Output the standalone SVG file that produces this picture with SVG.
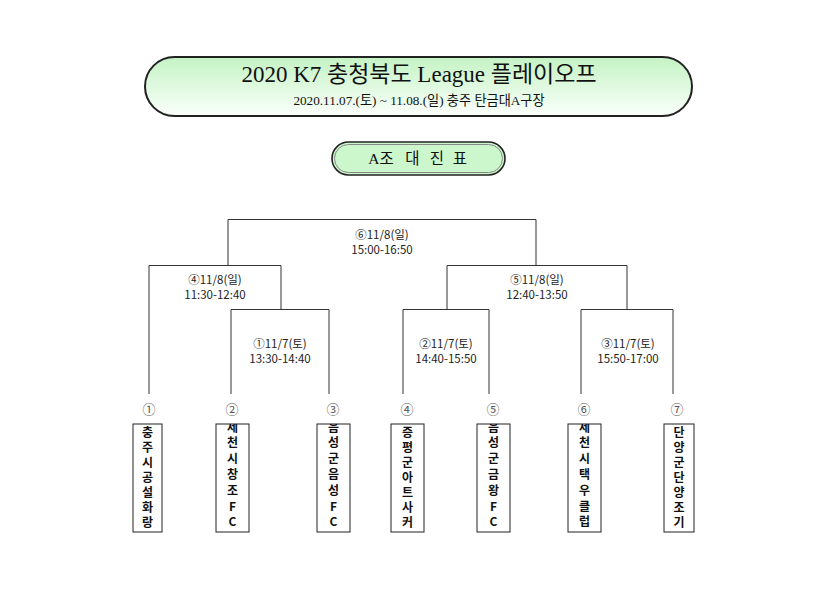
<svg xmlns="http://www.w3.org/2000/svg" width="835" height="590" viewBox="0 0 835 590">
<defs>
<linearGradient id="gTitle" x1="0" y1="0" x2="0" y2="1">
<stop offset="0" stop-color="#c4f3c4"/>
<stop offset="1" stop-color="#fbfffb"/>
</linearGradient>
<clipPath id="c2"><rect x="216" y="424" width="33" height="108"/></clipPath>
<clipPath id="c3"><rect x="317" y="424" width="33" height="108"/></clipPath>
<clipPath id="c5"><rect x="477" y="424" width="33" height="108"/></clipPath>
<clipPath id="c6"><rect x="568" y="424" width="33" height="108"/></clipPath>
</defs>
<style>
.title{font-family:"Liberation Serif","Noto Sans CJK KR",serif;fill:#111;text-anchor:middle}
.lbl{font-family:"Noto Sans CJK KR","Noto Sans",sans-serif;font-size:11.5px;fill:#222;text-anchor:middle}
.num{font-family:"DejaVu Serif","Noto Sans CJK KR",serif;font-size:13px;fill:#555;text-anchor:middle}
.team{font-family:"Noto Sans CJK KR",sans-serif;font-size:12px;font-weight:700;fill:#111;text-anchor:start;writing-mode:vertical-rl;text-orientation:upright;letter-spacing:3px}
.team.t2{letter-spacing:3.8px}
.box{fill:#fff;stroke:#222;stroke-width:1}
.ln{fill:none;stroke:#333;stroke-width:1}
</style>
<rect width="835" height="590" fill="#fff"/>

<g id="title">
<rect x="145" y="57" width="547" height="59" rx="29.5" fill="url(#gTitle)" stroke="#222" stroke-width="2"/>
<text class="title" x="419" y="82" font-size="23">2020 K7 충청북도 League 플레이오프</text>
<text class="title" x="419" y="105" font-size="13.2">2020.11.07.(토) ~ 11.08.(일) 충주 탄금대A구장</text>
</g>

<g id="group-title">
<rect x="332" y="142" width="173" height="33" rx="16.5" fill="#ccf7cc" stroke="#222" stroke-width="1.6"/>
<rect x="334.5" y="144.5" width="168" height="28" rx="14" fill="none" stroke="#888" stroke-width="1"/>
<text class="title" y="164" font-size="15.5"><tspan x="381">A조</tspan><tspan x="412.5">대</tspan><tspan x="437">진</tspan><tspan x="460">표</tspan></text>
</g>

<g id="connectors">
<path class="ln" d="M228,265 V219.5 H536 V265"/>
<path class="ln" d="M149,394 V265.5 H281 V309"/>
<path class="ln" d="M231,394 V309.5 H329 V394"/>
<path class="ln" d="M447,309 V265.5 H627 V309"/>
<path class="ln" d="M403,394 V309.5 H489 V394"/>
<path class="ln" d="M581,394 V309.5 H673 V394"/>
</g>

<g id="match6"><text class="lbl" x="382" y="239">⑥11/8(일)</text><text class="lbl" x="382" y="254">15:00-16:50</text></g>
<g id="match4"><text class="lbl" x="215" y="284">④11/8(일)</text><text class="lbl" x="215" y="299">11:30-12:40</text></g>
<g id="match5"><text class="lbl" x="537" y="284">⑤11/8(일)</text><text class="lbl" x="537" y="299">12:40-13:50</text></g>
<g id="match1"><text class="lbl" x="280" y="348">①11/7(토)</text><text class="lbl" x="280" y="363">13:30-14:40</text></g>
<g id="match2"><text class="lbl" x="446" y="348">②11/7(토)</text><text class="lbl" x="446" y="363">14:40-15:50</text></g>
<g id="match3"><text class="lbl" x="628" y="348">③11/7(토)</text><text class="lbl" x="628" y="363">15:50-17:00</text></g>

<g id="team1">
<text class="num" x="149" y="413.5">①</text>
<rect class="box" x="133" y="424" width="29" height="108"/>
<text class="team" x="147.5" y="426">충주시공설화랑</text>
</g>
<g id="team2">
<text class="num" x="232" y="413.5">②</text>
<rect class="box" x="216" y="424" width="33" height="108"/>
<text class="team t2" clip-path="url(#c2)" x="232.5" y="421">제천시창조FC</text>
</g>
<g id="team3">
<text class="num" x="333" y="413.5">③</text>
<rect class="box" x="317" y="424" width="33" height="108"/>
<text class="team t2" clip-path="url(#c3)" x="333.5" y="421">음성군음성FC</text>
</g>
<g id="team4">
<text class="num" x="407" y="413.5">④</text>
<rect class="box" x="391" y="424" width="33" height="108"/>
<text class="team" x="407.5" y="426">증평군아트사커</text>
</g>
<g id="team5">
<text class="num" x="493" y="413.5">⑤</text>
<rect class="box" x="477" y="424" width="33" height="108"/>
<text class="team t2" clip-path="url(#c5)" x="493.5" y="421">음성군금왕FC</text>
</g>
<g id="team6">
<text class="num" x="584" y="413.5">⑥</text>
<rect class="box" x="568" y="424" width="33" height="108"/>
<text class="team t2" clip-path="url(#c6)" x="584.5" y="421">제천시택우클럽</text>
</g>
<g id="team7">
<text class="num" x="677" y="413.5">⑦</text>
<rect class="box" x="664" y="424" width="30" height="108"/>
<text class="team" x="679" y="426">단양군단양조기</text>
</g>
</svg>
